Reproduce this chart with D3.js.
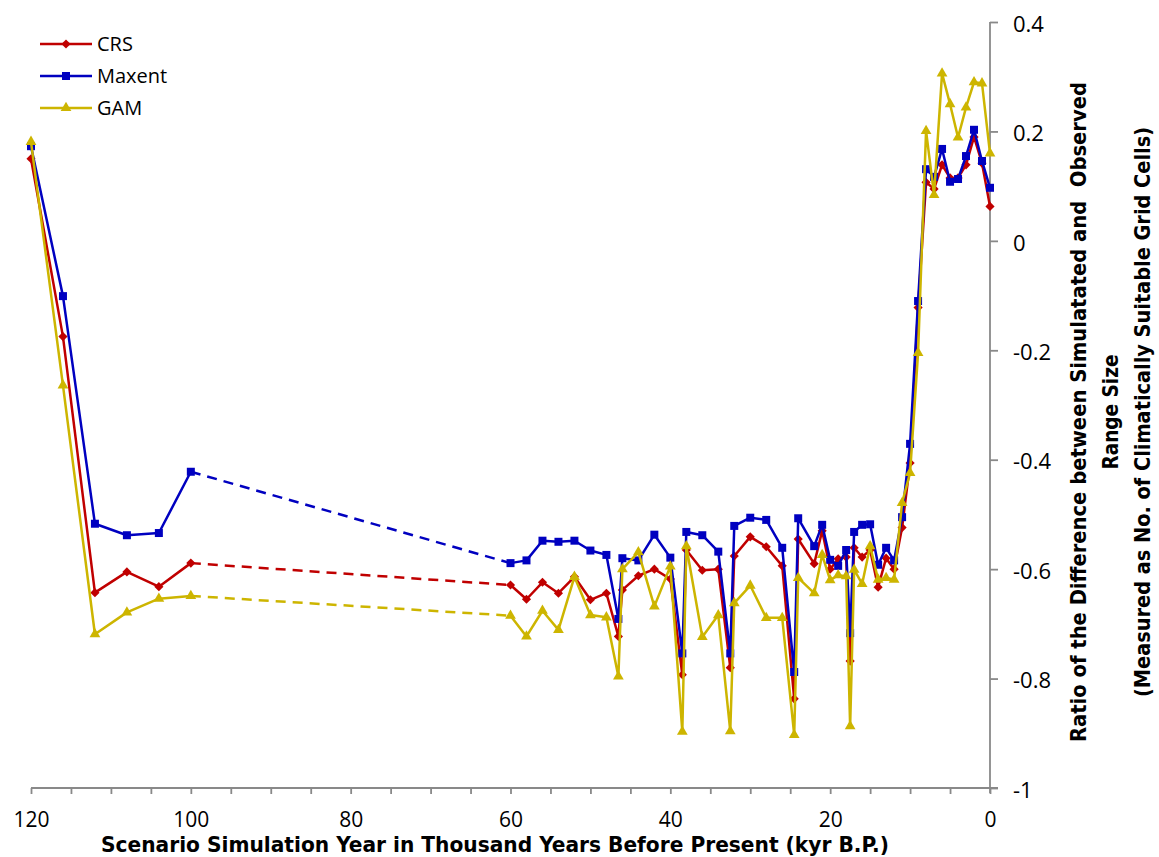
<!DOCTYPE html>
<html lang="en">
<head>
<meta charset="UTF-8">
<title>Range size ratio</title>
<script src="https://cdn.jsdelivr.net/npm/d3@7"></script>
<style>
    body { margin: 0; background: #fff; }
    svg { display: block; }
    .tick text { font-family: "Open Sans", sans-serif; fill: #000; }
    .title { font-family: "Liberation Sans Narrow", "DejaVu Sans Condensed", "Open Sans", sans-serif; font-weight: bold; font-stretch: condensed; }
</style>
</head>
<body>
<div id="chart"></div>
<script>
// years before present (kyr)
var years = [120, 116, 112, 108, 104, 100,
    60, 58, 56, 54, 52, 50, 48, 46.5, 46, 44, 42, 40,
    38.5, 38, 36, 34, 32.5, 32, 30, 28, 26,
    24.5, 24, 22, 21, 20, 19, 18, 17.5, 17, 16, 15, 14, 13, 12, 11, 10,
    9, 8, 7, 6, 5, 4, 3, 2, 1, 0];

var crs = [0.150, -0.175, -0.643, -0.605, -0.632, -0.589,
    -0.629, -0.655, -0.624, -0.644, -0.614, -0.656, -0.644, -0.723, -0.638, -0.612, -0.600, -0.618,
    -0.793, -0.565, -0.602, -0.600, -0.780, -0.576, -0.541, -0.559, -0.594,
    -0.837, -0.545, -0.590, -0.530, -0.600, -0.581, -0.578, -0.768, -0.561, -0.578, -0.565, -0.633, -0.580, -0.600, -0.524, -0.406,
    -0.122, 0.107, 0.095, 0.139, 0.115, 0.115, 0.139, 0.190, 0.142, 0.063];

var maxent = [0.173, -0.101, -0.517, -0.538, -0.534, -0.422,
    -0.589, -0.584, -0.548, -0.550, -0.548, -0.566, -0.574, -0.691, -0.580, -0.584, -0.537, -0.579,
    -0.754, -0.532, -0.538, -0.568, -0.754, -0.521, -0.506, -0.510, -0.561,
    -0.788, -0.507, -0.558, -0.519, -0.583, -0.594, -0.565, -0.717, -0.532, -0.519, -0.518, -0.592, -0.561, -0.584, -0.505, -0.371,
    -0.110, 0.131, 0.117, 0.168, 0.108, 0.113, 0.155, 0.203, 0.146, 0.097];

var gam = [0.181, -0.264, -0.719, -0.679, -0.654, -0.649,
    -0.685, -0.723, -0.676, -0.711, -0.614, -0.684, -0.688, -0.796, -0.600, -0.569, -0.668, -0.595,
    -0.897, -0.558, -0.724, -0.684, -0.896, -0.662, -0.630, -0.689, -0.689,
    -0.903, -0.616, -0.644, -0.574, -0.620, -0.611, -0.613, -0.887, -0.601, -0.627, -0.558, -0.619, -0.616, -0.619, -0.479, -0.424,
    -0.205, 0.201, 0.084, 0.306, 0.250, 0.189, 0.244, 0.290, 0.288, 0.160];

var seriesNames = ["CRS", "Maxent", "GAM"];
var xTicks = [120, 115, 110, 105, 100, 95, 90, 85, 80, 75, 70, 65, 60, 55, 50, 45, 40, 35, 30, 25, 20, 15, 10, 5, 0];
var yTicks = [-1, -0.8, -0.6, -0.4, -0.2, 0, 0.2, 0.4];
var gapFrom = 100, gapTo = 60; // no scenarios in between, joined by dashes

var width = 1159, height = 857;
var colors = {CRS: "#c00000", Maxent: "#0000c0", GAM: "#cdb500"};

var x = d3.scaleLinear().domain([120, 0]).range([31, 990]);
var y = d3.scaleLinear().domain([-1, 0.4]).range([788, 22]);

var svg = d3.select("#chart").append("svg")
    .attr("width", width)
    .attr("height", height);

// x axis
var xAxis = svg.append("g")
    .attr("transform", "translate(0," + y(-1) + ")")
    .call(d3.axisBottom(x)
        .tickValues(xTicks)
        .tickSize(6)
        .tickSizeOuter(0)
        .tickFormat(function(d) { return d % 20 === 0 ? d : ""; }));
xAxis.select(".domain").attr("d", "M" + x(120) + ",0H" + (x(0) + 8));
xAxis.selectAll("text").attr("y", 32).attr("dy", "0.35em").style("font-size", "21px");

// y axis on the right
var yAxis = svg.append("g")
    .attr("transform", "translate(" + x(0) + ",0)")
    .call(d3.axisRight(y)
        .tickValues(yTicks)
        .tickSize(8)
        .tickPadding(15)
        .tickSizeOuter(0)
        .tickFormat(function(d) { return d === 0 ? "0" : String(+d.toFixed(1)); }));
yAxis.select(".domain").attr("d", "M0," + y(0.4) + "V" + (y(-1) + 5));
yAxis.selectAll("text").attr("dy", "0.42em").style("font-size", "22px");

svg.selectAll(".domain, .tick line")
    .attr("stroke", "#898989")
    .attr("stroke-width", 1.8);

// titles
svg.append("text")
    .attr("class", "title")
    .attr("x", 495)
    .attr("y", 852)
    .attr("text-anchor", "middle")
    .attr("textLength", 788)
    .attr("lengthAdjust", "spacingAndGlyphs")
    .style("font-size", "22px")
    .text("Scenario Simulation Year in Thousand Years Before Present (kyr B.P.)");

var yTitle = [
    {t: "Ratio of the Difference between Simulatated and  Observed", len: 660},
    {t: "Range Size", len: 115},
    {t: "(Measured as No. of Climatically Suitable Grid Cells)", len: 570}
];
svg.selectAll(".ytitle")
    .data(yTitle)
    .enter()
    .append("text")
    .attr("class", "title ytitle")
    .attr("transform", function(d, i) { return "translate(" + (1086 + i * 32) + ",412) rotate(-90)"; })
    .attr("text-anchor", "middle")
    .attr("textLength", function(d) { return d.len; })
    .attr("lengthAdjust", "spacingAndGlyphs")
    .style("font-size", "21px")
    .style("white-space", "pre")
    .text(function(d) { return d.t; });

// series
var series = [
    {name: "CRS", values: crs, shape: "diamond"},
    {name: "Maxent", values: maxent, shape: "square"},
    {name: "GAM", values: gam, shape: "triangle"}
];

function marker(shape) {
    if (shape === "diamond") return d3.symbol().type(d3.symbolSquare).size(42)();
    if (shape === "square") return d3.symbol().type(d3.symbolSquare).size(64)();
    return d3.symbol().type(d3.symbolTriangle).size(50)();
}
function markerRot(shape) { return shape === "diamond" ? " rotate(45)" : ""; }

var line = d3.line()
    .x(function(d) { return x(d.year); })
    .y(function(d) { return y(d.v); });

series.forEach(function(s) {
    var pts = years.map(function(yr, i) { return {year: yr, v: s.values[i]}; });
    var early = pts.filter(function(p) { return p.year >= gapFrom; });
    var late = pts.filter(function(p) { return p.year <= gapTo; });
    var gap = pts.filter(function(p) { return p.year === gapFrom || p.year === gapTo; });
    var g = svg.append("g");

    [early, late].forEach(function(seg) {
        g.append("path")
            .attr("d", line(seg))
            .attr("fill", "none")
            .attr("stroke", colors[s.name])
            .attr("stroke-width", 2.5)
            .attr("stroke-linejoin", "round");
    });
    g.append("path")
        .attr("d", line(gap))
        .attr("fill", "none")
        .attr("stroke", colors[s.name])
        .attr("stroke-width", 2.5)
        .attr("stroke-dasharray", "10,7");

    g.selectAll(".pt")
        .data(pts)
        .enter()
        .append("path")
        .attr("d", marker(s.shape))
        .attr("transform", function(d) { return "translate(" + x(d.year) + "," + y(d.v) + ")" + markerRot(s.shape); })
        .attr("fill", colors[s.name]);
});

// legend
var legend = svg.append("g");
seriesNames.forEach(function(name, i) {
    var s = series[i];
    var ly = 44 + i * 32;
    legend.append("line")
        .attr("x1", 40).attr("x2", 92)
        .attr("y1", ly).attr("y2", ly)
        .attr("stroke", colors[name])
        .attr("stroke-width", 2.5);
    legend.append("path")
        .attr("d", marker(s.shape))
        .attr("transform", "translate(66," + ly + ")" + markerRot(s.shape))
        .attr("fill", colors[name]);
    legend.append("text")
        .attr("x", 97)
        .attr("y", ly)
        .attr("dy", "0.36em")
        .style("font-family", "'Open Sans', sans-serif")
        .style("font-size", "20px")
        .text(name);
});
</script>
</body>
</html>
